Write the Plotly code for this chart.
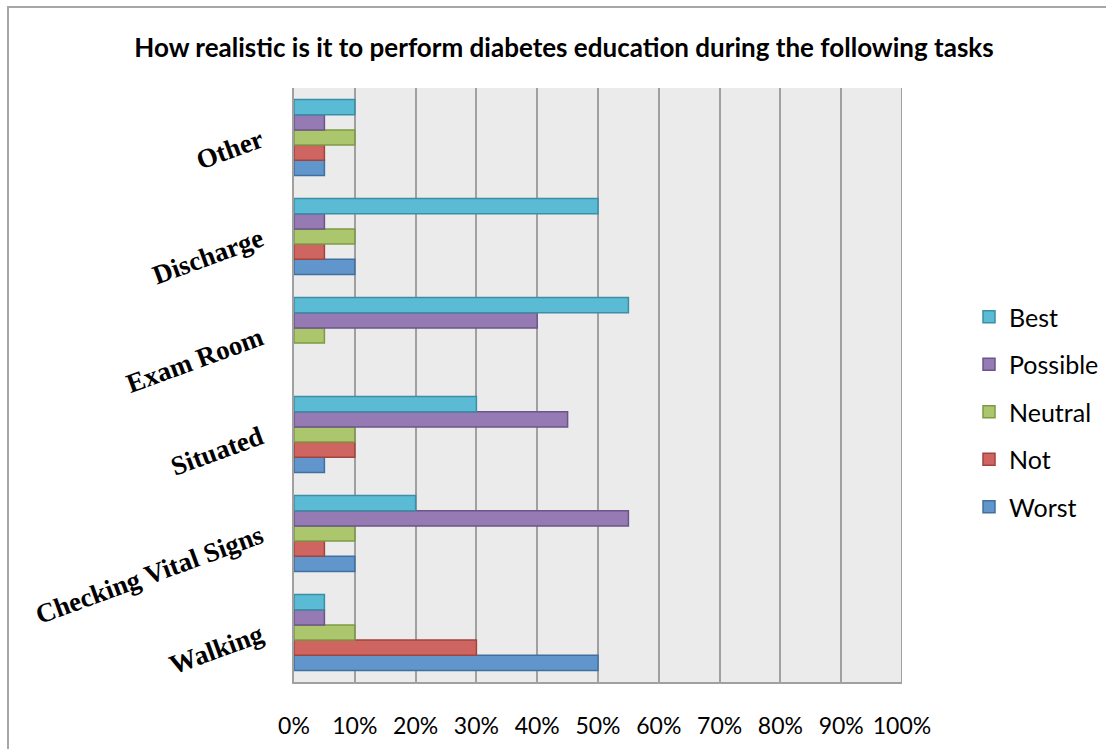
import plotly.graph_objects as go

# Tasks, listed bottom to top as they appear on the category axis
tasks = ["Walking", "Checking Vital Signs", "Situated", "Exam Room", "Discharge", "Other"]

# Share of responses (%) per rating, in the same task order
worst = [50, 10, 5, 0, 10, 5]
not_realistic = [30, 5, 10, 0, 5, 5]
neutral = [10, 10, 10, 5, 10, 10]
possible = [5, 55, 45, 40, 5, 5]
best = [5, 20, 30, 55, 50, 10]

x_ticks = [0, 10, 20, 30, 40, 50, 60, 70, 80, 90, 100]
x_tick_text = [f"{v}%" for v in x_ticks]

# name, values, fill, outline, legend rank (Best listed first)
series = [
    ("Worst", worst, "#6096cc", "#41709f", 5),
    ("Not", not_realistic, "#cf6560", "#a0443f", 4),
    ("Neutral", neutral, "#acc66e", "#7f9a47", 3),
    ("Possible", possible, "#957ab4", "#6b5589", 2),
    ("Best", best, "#5bbbd4", "#3a8fa5", 1),
]

fig = go.Figure()
for name, vals, fill, edge, rank in series:
    fig.add_trace(go.Bar(
        y=tasks, x=vals, name=name, orientation="h",
        legendgroup=name, legendrank=rank,
        marker=dict(color=fill,
                    line=dict(color=edge, width=[1.5 if v > 0 else 0 for v in vals])),
    ))

W, H = 1106, 749
L, R, T, B = 294, 204, 88, 67
pw, ph = W - L - R, H - T - B

fig.update_layout(
    width=W, height=H, autosize=False,
    margin=dict(l=L, r=R, t=T, b=B, pad=0, autoexpand=False),
    paper_bgcolor="white",
    plot_bgcolor="#ebebeb",
    barmode="group",
    bargap=0.23,
    bargroupgap=0,
    font=dict(family="Lato", color="black"),
    title=dict(
        text="<b>How realistic is it to perform diabetes education during the following tasks</b>",
        x=564 / W, xref="container", xanchor="center",
        y=1 - 48 / H, yref="container", yanchor="middle",
        font=dict(family="Lato", size=26, color="black"),
    ),
    legend=dict(
        traceorder="grouped",
        xref="container", yref="container",
        x=969 / W, xanchor="left",
        y=1 - 294 / H, yanchor="top",
        font=dict(family="Lato", size=25, color="black"),
        tracegroupgap=12,
        bgcolor="rgba(0,0,0,0)",
    ),
    showlegend=True,
)

fig.update_xaxes(
    range=[0, 100],
    tickvals=x_ticks, ticktext=x_tick_text,
    showgrid=True, gridcolor="#a0a0a0", gridwidth=2,
    showline=True, linecolor="#a0a0a0", linewidth=2,
    zeroline=False, automargin=False,
    ticks="", ticklabelstandoff=22,
    tickfont=dict(family="Lato", size=23, color="black"),
    fixedrange=True,
)
fig.update_yaxes(
    categoryorder="array", categoryarray=tasks,
    showgrid=False,
    showline=True, linecolor="#a0a0a0", linewidth=2,
    automargin=False,
    ticks="", tickangle=-20, ticklabelstandoff=26,
    tickfont=dict(family="Liberation Serif", size=27, color="black", weight="bold"),
    fixedrange=True,
)

# Right-hand closing line of the plot area at 100%
fig.add_shape(type="line", xref="x", yref="paper", x0=100, x1=100, y0=0, y1=1,
              line=dict(color="#a0a0a0", width=2))

# Chart border (top and left edges visible, extending past the canvas)
fig.add_shape(type="rect", xref="paper", yref="paper",
              x0=(8 - L) / pw, x1=(W + 20 - L) / pw,
              y0=-(H + 20 - (H - B)) / ph, y1=((H - B) - 7) / ph,
              line=dict(color="#a6a6a6", width=2), fillcolor="rgba(0,0,0,0)",
              layer="below")

fig.write_html("out.html")
